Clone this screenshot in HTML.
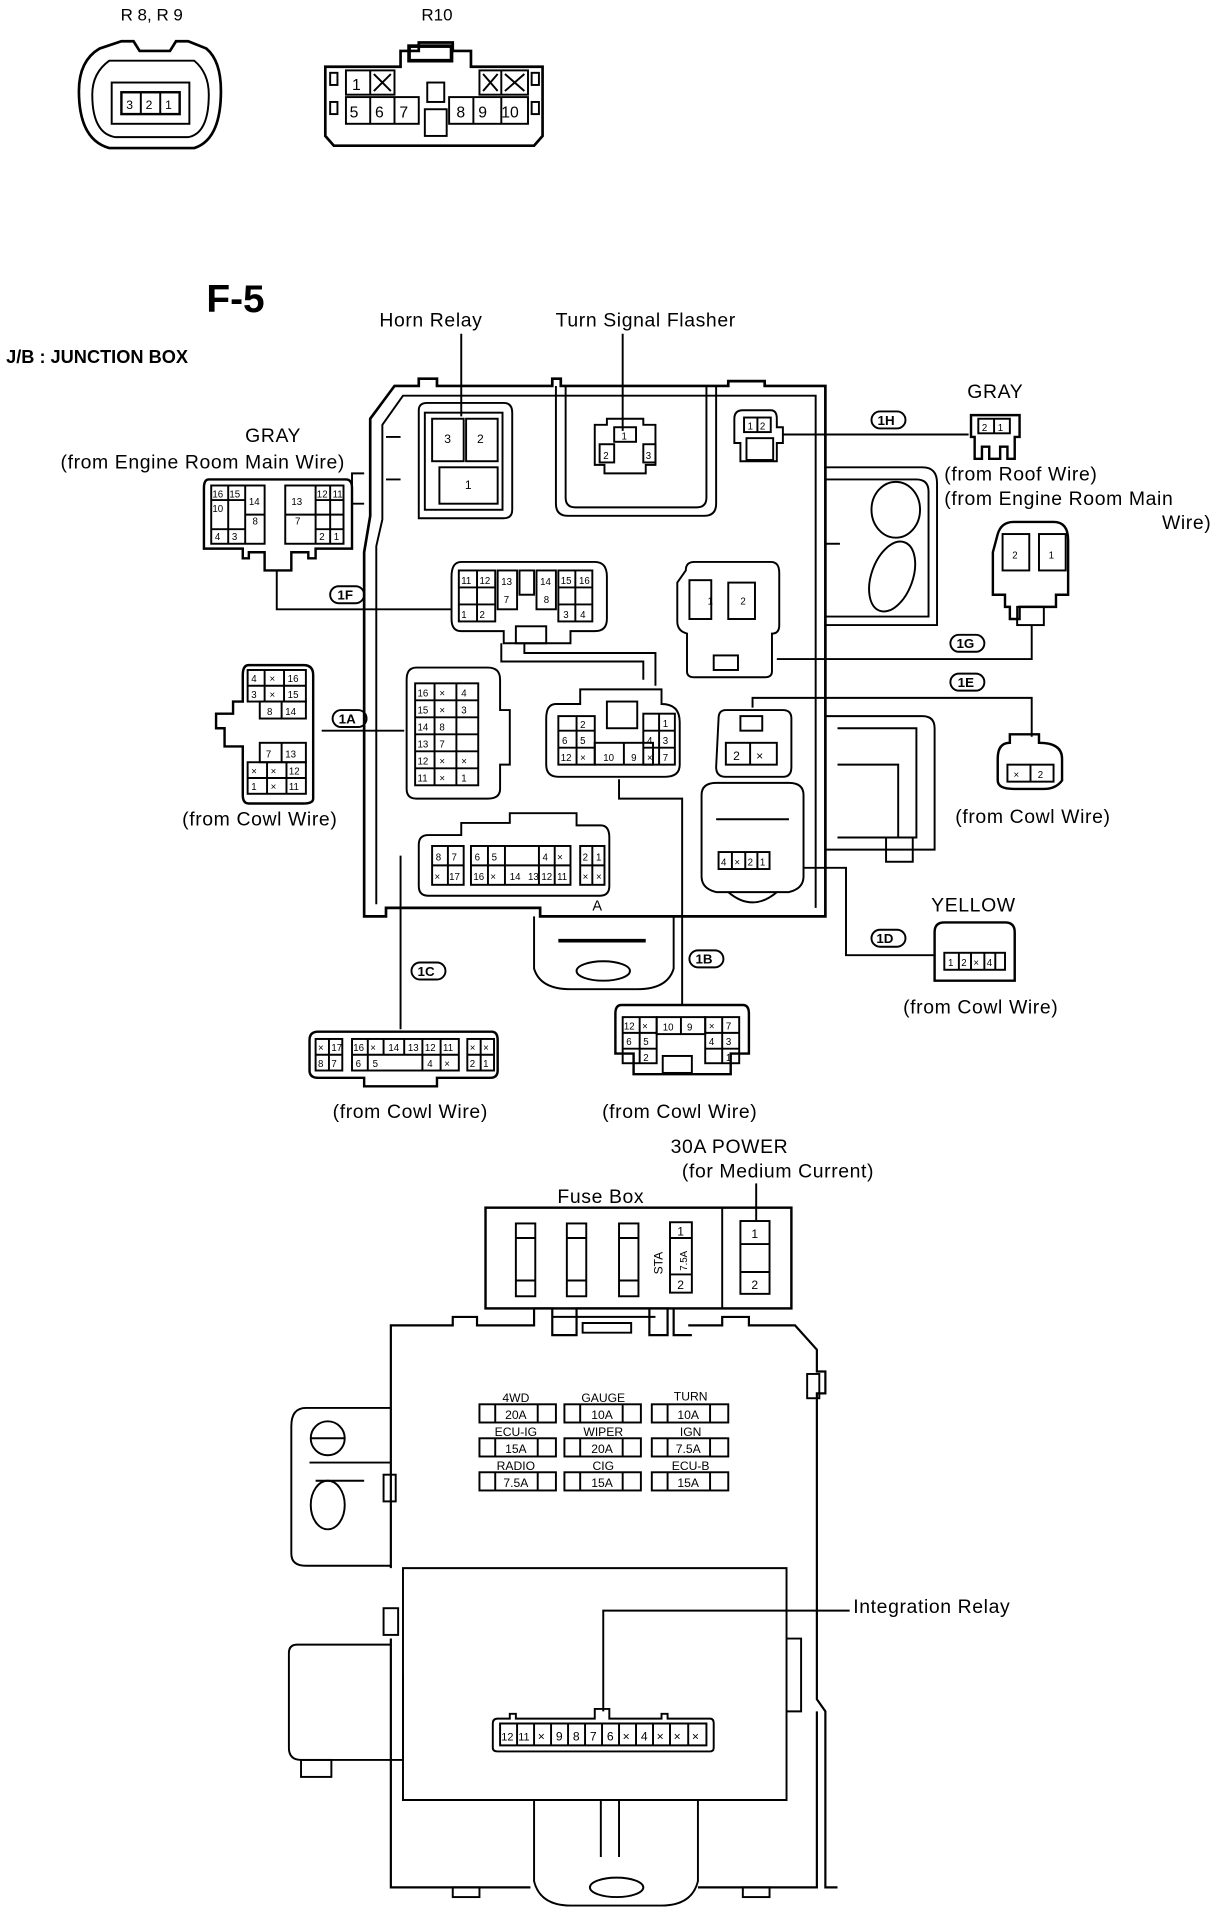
<!DOCTYPE html>
<html><head><meta charset="utf-8"><style>
html,body{margin:0;padding:0;background:#fff}
svg{display:block}
text{font-family:"Liberation Sans",sans-serif;fill:#000}
.l{font-size:16px;letter-spacing:0.5px}
.s{font-size:10px}
.t{font-size:8px}
</style></head><body>
<svg width="1232" height="1908" viewBox="0 0 1015 1572" xmlns="http://www.w3.org/2000/svg" fill="none" stroke="#000" stroke-width="1.6">
<!-- top connectors -->
<g stroke="none">
<text x="125" y="17" text-anchor="middle" style="font-size:14px">R 8, R 9</text>
<text x="360" y="17" text-anchor="middle" style="font-size:14px">R10</text>
</g>
<path d="M82 40 L100 34 H110 L115 42 H140 L145 34 H155 L170 40 Q182 50 182 75 Q182 115 160 122 H90 Q65 115 65 75 Q65 50 82 40Z" stroke-width="2.2"/>
<path d="M90 50 H160 Q172 60 172 78 Q172 110 155 113 H95 Q76 110 76 78 Q76 60 90 50Z"/>
<rect x="92" y="68" width="64" height="34"/>
<rect x="100" y="76" width="48" height="18" stroke-width="2"/>
<path d="M116 76V94M132 76V94"/>
<g stroke="none" class="s"><text x="104" y="90">3</text><text x="120" y="90">2</text><text x="136" y="90">1</text></g>
<path d="M268 55 H330 V42 H345 V35 H373 V42 H388 V55 H447 V112 L440 120 H275 L268 112Z" stroke-width="2.2"/>
<rect x="337" y="38" width="35" height="12" stroke-width="3"/>
<rect x="285" y="58" width="40" height="20"/><rect x="285" y="80" width="60" height="22"/>
<rect x="395" y="58" width="40" height="20"/><rect x="370" y="80" width="65" height="22"/>
<path d="M305 58V78M305 80V102M325 80V102M390 80V102M413 58V78M413 80V102"/>
<path d="M308 61l14 14M322 61l-14 14M398 61l12 14M410 61l-12 14M416 61l16 14M432 61l-16 14"/>
<rect x="352" y="68" width="14" height="16"/><rect x="350" y="90" width="18" height="22"/>
<rect x="272" y="60" width="6" height="10"/><rect x="272" y="84" width="6" height="10"/>
<rect x="438" y="60" width="6" height="10"/><rect x="438" y="84" width="6" height="10"/>
<g stroke="none" style="font-size:13px"><text x="290" y="74">1</text><text x="288" y="97">5</text><text x="309" y="97">6</text><text x="329" y="97">7</text><text x="376" y="97">8</text><text x="394" y="97">9</text><text x="413" y="97">10</text></g>

<!-- headings -->
<g stroke="none">
<text x="170" y="257" style="font-size:32px;font-weight:bold">F-5</text>
<text x="5" y="299" style="font-size:15px;font-weight:bold">J/B : JUNCTION BOX</text>
<text x="355" y="269" text-anchor="middle" class="l">Horn Relay</text>
<text x="532" y="269" text-anchor="middle" class="l">Turn Signal Flasher</text>
<text x="225" y="364" text-anchor="middle" class="l">GRAY</text>
<text x="167" y="386" text-anchor="middle" class="l">(from Engine Room Main Wire)</text>
<text x="820" y="328" text-anchor="middle" class="l">GRAY</text>
<text x="778" y="396" class="l">(from Roof Wire)</text>
<text x="778" y="416" class="l">(from Engine Room Main</text>
<text x="998" y="436" text-anchor="end" class="l">Wire)</text>
<text x="214" y="680" text-anchor="middle" class="l">(from Cowl Wire)</text>
<text x="851" y="678" text-anchor="middle" class="l">(from Cowl Wire)</text>
<text x="802" y="751" text-anchor="middle" class="l">YELLOW</text>
<text x="808" y="835" text-anchor="middle" class="l">(from Cowl Wire)</text>
<text x="338" y="921" text-anchor="middle" class="l">(from Cowl Wire)</text>
<text x="560" y="921" text-anchor="middle" class="l">(from Cowl Wire)</text>
<text x="601" y="950" text-anchor="middle" class="l">30A POWER</text>
<text x="641" y="970" text-anchor="middle" class="l">(for Medium Current)</text>
<text x="495" y="991" text-anchor="middle" class="l">Fuse Box</text>
<text x="703" y="1329" class="l">Integration Relay</text>
</g>

<!-- main junction box outline -->
<path d="M300 750 V455 L305 425 V345 L325 318 H345 V312 H360 V318 H455 V312 H462 V318 H600 V314 H630 V318 H680 V755 H445 V748 H318 V755 H300Z" stroke-width="2.2"/>
<path d="M310 745 V450 L315 428 V350 L332 326 H672 V748"/>
<path d="M300 390 H290 V415 H300"/>
<path d="M318 360 H330M318 395 H330"/>
<!-- horn relay -->
<path d="M345 338 Q345 332 352 332 H415 Q422 332 422 340 V420 Q422 427 415 427 H345Z"/>
<rect x="350" y="340" width="64" height="80"/>
<rect x="356" y="345" width="26" height="35"/><rect x="384" y="345" width="26" height="35"/>
<rect x="362" y="385" width="48" height="30"/>
<g stroke="none" class="s"><text x="366" y="365">3</text><text x="393" y="365">2</text><text x="383" y="403">1</text></g>
<path d="M380 275 V343"/>
<!-- turn flasher -->
<path d="M458 318 V415 Q458 425 468 425 H580 Q590 425 590 415 V318"/>
<path d="M466 318 V410 Q466 418 474 418 H574 Q582 418 582 410 V318"/>
<path d="M490 350 H500 V345 H530 V350 H540 V383 H532 V390 H498 V383 H490Z"/>
<rect x="506" y="352" width="18" height="12"/>
<rect x="494" y="366" width="12" height="15"/><rect x="530" y="366" width="10" height="15"/>
<g stroke="none" class="t"><text x="512" y="362">1</text><text x="497" y="378">2</text><text x="532" y="378">3</text></g>
<path d="M513 275 V355"/>
<!-- 1H connector -->
<path d="M605 345 Q605 338 612 338 H635 Q640 338 640 345 V352 H645 V365 H640 V380 H610 V365 H605Z"/>
<rect x="613" y="344" width="22" height="12"/><path d="M624 344V356"/>
<rect x="615" y="361" width="22" height="18"/>
<g stroke="none" class="t"><text x="616" y="354">1</text><text x="626" y="354">2</text></g>
<path d="M645 358 H798"/>
<rect x="718" y="339" width="28" height="14" rx="7"/>
<g stroke="none" class="s"><text x="723" y="350" style="font-size:11px;font-weight:bold">1H</text></g>
<!-- GRAY 1H right -->
<path d="M800 342 H840 V360 H836 V378 H830 V368 H824 V378 H815 V368 H809 V378 H803 V360 H800Z" stroke-width="2"/>
<rect x="806" y="345" width="26" height="12"/><path d="M819 345V357"/>
<g stroke="none" class="t"><text x="809" y="355">2</text><text x="822" y="355">1</text></g>
<!-- right oval bracket area -->
<path d="M680 385 H760 Q772 385 772 398 V515 H680"/>
<path d="M680 395 H755 Q765 395 765 405 V508 H680"/>
<ellipse cx="738" cy="420" rx="20" ry="23"/>
<ellipse cx="735" cy="475" rx="17" ry="30" transform="rotate(20 735 475)"/>
<path d="M680 448 H692"/>
<!-- 1G connector right -->
<path d="M822 440 Q825 430 835 430 H868 Q880 430 880 445 V490 H870 V500 H840 V510 H832 V500 H828 V490 H818 V455Z" stroke-width="2"/>
<rect x="826" y="440" width="22" height="30"/><rect x="856" y="440" width="22" height="30"/>
<rect x="838" y="500" width="22" height="15"/>
<g stroke="none" class="t"><text x="834" y="460">2</text><text x="864" y="460">1</text></g>
<path d="M850 515 V543 H640"/>
<rect x="783" y="523" width="28" height="14" rx="7"/>
<g stroke="none"><text x="788" y="534" style="font-size:11px;font-weight:bold">1G</text></g>
<!-- 1G relay -->
<path d="M565 470 Q565 463 572 463 H635 Q642 463 642 472 V515 Q642 522 636 522 V553 Q636 558 630 558 H572 Q566 558 566 553 V522 Q558 520 558 512 V480Z"/>
<rect x="568" y="478" width="18" height="32"/><rect x="600" y="480" width="22" height="30"/>
<rect x="588" y="540" width="20" height="12"/>
<g stroke="none" class="t"><text x="583" y="498">1</text><text x="610" y="498">2</text></g>
<!-- 1E -->
<rect x="783" y="555" width="28" height="14" rx="7"/>
<g stroke="none"><text x="789" y="566" style="font-size:11px;font-weight:bold">1E</text></g>
<path d="M620 583 V575 H850 V607"/>
<path d="M822 625 Q822 612 832 612 V605 H856 V612 Q875 612 875 625 V643 Q870 650 860 650 H835 Q822 650 822 643Z" stroke-width="2"/>
<rect x="830" y="630" width="38" height="14"/><path d="M849 630V644"/>
<g stroke="none" class="t"><text x="835" y="641">×</text><text x="855" y="641">2</text></g>
<path d="M592 592 Q592 585 598 585 H645 Q652 585 652 592 V632 Q652 640 645 640 H598 Q590 640 590 632Z"/>
<rect x="598" y="612" width="42" height="18"/><path d="M618 612V630"/>
<g stroke="none" class="s"><text x="604" y="626">2</text><text x="623" y="626">×</text></g>
<rect x="610" y="590" width="18" height="12"/>
<!-- lower right connector -->
<path d="M578 655 Q578 645 590 645 H650 Q662 645 662 655 V722 Q662 732 650 735 H590 Q578 732 578 722Z"/>
<path d="M600 735 Q620 752 640 735"/>
<rect x="592" y="702" width="42" height="14"/>
<path d="M603 702V716M614 702V716M624 702V716"/>
<g stroke="none" class="t"><text x="594" y="713">4</text><text x="605" y="713">×</text><text x="616" y="713">2</text><text x="626" y="713">1</text></g>
<path d="M590 675 H650"/>
<!-- right structures -->
<path d="M680 590 H760 Q770 590 770 600 V700 H680"/>
<path d="M690 600 H755 V690 H690"/>
<path d="M690 630 H740 V690"/>
<rect x="730" y="690" width="22" height="20"/>
<!-- 1D -->
<path d="M662 715 H697 V787 H770"/>
<rect x="718" y="766" width="28" height="14" rx="7"/>
<g stroke="none"><text x="722" y="777" style="font-size:11px;font-weight:bold">1D</text></g>
<path d="M770 768 Q770 760 778 760 H828 Q836 760 836 768 V808 H770Z" stroke-width="2"/>
<rect x="778" y="785" width="50" height="14"/>
<path d="M790 785V799M800 785V799M811 785V799M820 785V799"/>
<g stroke="none" class="t"><text x="781" y="796">1</text><text x="792" y="796">2</text><text x="802" y="796">×</text><text x="813" y="796">4</text></g>
<!-- left GRAY connector 1F -->
<path d="M172 395 H285 Q290 395 290 402 V452 H260 V460 H254 V455 H240 V470 H218 V455 H205 V460 H200 V452 H168 V402 Q168 395 172 395Z" stroke-width="2"/>
<rect x="174" y="400" width="44" height="48"/><rect x="235" y="400" width="48" height="48"/>
<path d="M188 400V448M202 400V412M202 436V448M174 412H202M174 436H202M202 412V436M218 424H202"/>
<path d="M260 400V448M272 400V448M260 412H283M260 424H283M260 436H283M235 424H260"/>
<g stroke="none" class="t"><text x="175" y="410">16</text><text x="189" y="410">15</text><text x="205" y="416">14</text><text x="175" y="422">10</text><text x="208" y="432">8</text><text x="177" y="445">4</text><text x="191" y="445">3</text><text x="240" y="416">13</text><text x="243" y="432">7</text><text x="261" y="410">12</text><text x="274" y="410">11</text><text x="263" y="445">2</text><text x="275" y="445">1</text></g>
<path d="M228 470 V502 H372"/>
<rect x="272" y="483" width="28" height="14" rx="7"/>
<g stroke="none"><text x="278" y="494" style="font-size:11px;font-weight:bold">1F</text></g>
<!-- 1F inner connector -->
<path d="M380 463 H490 Q500 463 500 475 V510 Q500 520 490 520 H470 V530 H415 V520 H380 Q372 520 372 510 V475 Q372 463 380 463Z"/>
<rect x="378" y="470" width="30" height="42"/><rect x="410" y="470" width="16" height="32"/>
<rect x="442" y="470" width="16" height="32"/><rect x="460" y="470" width="28" height="42"/>
<path d="M393 470V512M378 484H408M378 498H408M474 470V512M460 484H488M460 498H488"/>
<rect x="428" y="470" width="12" height="20"/>
<rect x="425" y="516" width="25" height="14"/>
<path d="M413 530 V545 H530 V560M432 530 V538H540 V565"/>
<g stroke="none" class="t"><text x="380" y="481">11</text><text x="395" y="481">12</text><text x="413" y="482">13</text><text x="445" y="482">14</text><text x="462" y="481">15</text><text x="477" y="481">16</text><text x="415" y="497">7</text><text x="448" y="497">8</text><text x="380" y="509">1</text><text x="395" y="509">2</text><text x="464" y="509">3</text><text x="478" y="509">4</text></g>
<!-- 1A left connector -->
<path d="M205 548 H250 Q258 548 258 556 V658 Q258 662 250 662 H205 Q200 662 200 655 V615 H185 V600 H178 V588 H192 V578 H200 V556 Q200 548 205 548Z" stroke-width="2"/>
<rect x="204" y="552" width="48" height="26"/><path d="M218 552V578M234 552V578M204 565H252"/>
<rect x="214" y="578" width="38" height="14"/><path d="M232 578V592"/>
<rect x="214" y="612" width="38" height="16"/><path d="M232 612V628"/>
<rect x="204" y="628" width="48" height="26"/><path d="M220 628V654M236 628V654M204 641H252"/>
<g stroke="none" class="t"><text x="207" y="562">4</text><text x="222" y="562">×</text><text x="237" y="562">16</text><text x="207" y="575">3</text><text x="222" y="575">×</text><text x="237" y="575">15</text><text x="220" y="589">8</text><text x="235" y="589">14</text><text x="219" y="624">7</text><text x="235" y="624">13</text><text x="207" y="638">×</text><text x="223" y="638">×</text><text x="238" y="638">12</text><text x="207" y="651">1</text><text x="223" y="651">×</text><text x="238" y="651">11</text></g>
<path d="M265 602 H333"/>
<rect x="274" y="585" width="28" height="14" rx="7"/>
<g stroke="none"><text x="279" y="596" style="font-size:11px;font-weight:bold">1A</text></g>
<!-- 1A inner -->
<path d="M343 550 H402 Q412 550 412 560 V585 H420 V630 H412 V650 Q412 658 402 658 H343 Q335 658 335 650 V560 Q335 550 343 550Z"/>
<rect x="342" y="563" width="52" height="84"/>
<path d="M342 577H394M342 591H394M342 605H394M342 619H394M342 633H394M358 563V647M376 563V647"/>
<g stroke="none" class="t"><text x="344" y="574">16</text><text x="362" y="574">×</text><text x="380" y="574">4</text><text x="344" y="588">15</text><text x="362" y="588">×</text><text x="380" y="588">3</text><text x="344" y="602">14</text><text x="362" y="602">8</text><text x="344" y="616">13</text><text x="362" y="616">7</text><text x="344" y="630">12</text><text x="362" y="630">×</text><text x="380" y="630">×</text><text x="344" y="644">11</text><text x="362" y="644">×</text><text x="380" y="644">1</text></g>
<!-- center connector -->
<path d="M458 580 H478 V568 H545 V580 Q560 580 560 595 V630 Q560 640 548 640 H460 Q450 640 450 630 V592 Q450 580 458 580Z"/>
<rect x="460" y="590" width="30" height="40"/><rect x="490" y="612" width="48" height="18"/><rect x="530" y="588" width="26" height="42"/>
<path d="M475 590V630M460 602H490M460 616H490M514 612V630M543 588V630M530 602H556M530 616H556"/>
<rect x="500" y="578" width="25" height="22"/>
<g stroke="none" class="t"><text x="478" y="600">2</text><text x="463" y="613">6</text><text x="478" y="613">5</text><text x="462" y="627">12</text><text x="478" y="627">×</text><text x="497" y="627">10</text><text x="520" y="627">9</text><text x="546" y="599">1</text><text x="533" y="613">4</text><text x="546" y="613">3</text><text x="533" y="627">×</text><text x="546" y="627">7</text></g>
<!-- 1B -->
<path d="M510 642 V658 H562 V828"/>
<rect x="568" y="783" width="28" height="14" rx="7"/>
<g stroke="none"><text x="573" y="794" style="font-size:11px;font-weight:bold">1B</text></g>
<path d="M512 828 H612 Q617 828 617 835 V868 H602 V885 H522 V868 H507 V835 Q507 828 512 828Z" stroke-width="2"/>
<rect x="513" y="838" width="28" height="38"/><rect x="541" y="838" width="40" height="14"/><rect x="581" y="838" width="28" height="38"/>
<path d="M527 838V876M513 851H541M513 864H541M595 838V876M581 851H609M581 864H609M561 838V852"/>
<rect x="546" y="870" width="24" height="14"/>
<g stroke="none" class="t"><text x="514" y="848">12</text><text x="529" y="848">×</text><text x="546" y="849">10</text><text x="566" y="849">9</text><text x="584" y="848">×</text><text x="598" y="848">7</text><text x="516" y="861">6</text><text x="530" y="861">5</text><text x="584" y="861">4</text><text x="598" y="861">3</text><text x="530" y="874">2</text><text x="598" y="874">1</text></g>
<!-- bottom row connector -->
<path d="M353 688 H380 V678 H420 V670 H475 V680 H495 Q502 680 502 690 V730 Q502 738 494 738 H353 Q345 738 345 730 V696 Q345 688 353 688Z"/>
<rect x="356" y="697" width="26" height="32"/><rect x="388" y="697" width="82" height="32"/><rect x="478" y="697" width="20" height="32"/>
<path d="M369 697V729M356 713H382M402 697V729M416 697V729M444 697V729M457 697V729M388 713H470M488 697V729M478 713H498"/>
<g stroke="none" class="t"><text x="359" y="709">8</text><text x="372" y="709">7</text><text x="358" y="725">×</text><text x="370" y="725">17</text><text x="391" y="709">6</text><text x="405" y="709">5</text><text x="390" y="725">16</text><text x="404" y="725">×</text><text x="420" y="725">14</text><text x="435" y="725">13</text><text x="447" y="709">4</text><text x="459" y="709">×</text><text x="446" y="725">12</text><text x="459" y="725">11</text><text x="480" y="709">2</text><text x="491" y="709">1</text><text x="480" y="725">×</text><text x="491" y="725">×</text></g>
<g stroke="none"><text x="492" y="750" text-anchor="middle" style="font-size:12px">A</text></g>
<path d="M440 755 V798 Q445 815 470 815 H525 Q550 815 555 798 V755"/>
<path d="M460 775 H532" stroke-width="3"/>
<ellipse cx="497" cy="800" rx="22" ry="8"/>
<!-- 1C -->
<path d="M330 705 V848"/>
<rect x="339" y="793" width="28" height="14" rx="7"/>
<g stroke="none"><text x="344" y="804" style="font-size:11px;font-weight:bold">1C</text></g>
<path d="M262 850 H405 Q410 850 410 857 V882 Q410 888 404 888 H360 V895 H300 V888 H262 Q255 888 255 882 V857 Q255 850 262 850Z" stroke-width="2"/>
<rect x="260" y="856" width="22" height="26"/><rect x="290" y="856" width="88" height="26"/><rect x="385" y="856" width="22" height="26"/>
<path d="M271 856V882M260 869H282M303 856V882M316 856V869M333 856V869M348 856V882M363 856V882M290 869H378M396 856V882M385 869H407"/>
<g stroke="none" class="t"><text x="262" y="866">×</text><text x="273" y="866">17</text><text x="262" y="879">8</text><text x="273" y="879">7</text><text x="291" y="866">16</text><text x="305" y="866">×</text><text x="320" y="866">14</text><text x="336" y="866">13</text><text x="350" y="866">12</text><text x="365" y="866">11</text><text x="293" y="879">6</text><text x="307" y="879">5</text><text x="352" y="879">4</text><text x="366" y="879">×</text><text x="387" y="866">×</text><text x="398" y="866">×</text><text x="387" y="879">2</text><text x="398" y="879">1</text></g>

<!-- fuse box -->
<rect x="400" y="995" width="252" height="83" stroke-width="2"/>
<path d="M595 995V1078"/>
<g>
<rect x="425" y="1008" width="16" height="60"/><path d="M425 1020H441M425 1055H441"/>
<rect x="467" y="1008" width="16" height="60"/><path d="M467 1020H483M467 1055H483"/>
<rect x="510" y="1008" width="16" height="60"/><path d="M510 1020H526M510 1055H526"/>
<rect x="552" y="1007" width="18" height="58"/><path d="M552 1020H570M552 1050H570"/>
<rect x="610" y="1006" width="24" height="60"/><path d="M610 1025H634M610 1048H634"/>
</g>
<g stroke="none" class="s"><text x="558" y="1018">1</text><text x="558" y="1062">2</text><text x="619" y="1020">1</text><text x="619" y="1062">2</text>
<text transform="translate(546 1050) rotate(-90)" class="s">STA</text>
<text transform="translate(566 1047) rotate(-90)" class="t">7.5A</text></g>
<path d="M623 975 V1006"/>
<!-- lower body -->
<path d="M325 1092 H373 V1085 H393 V1092 H440 V1078 H455 V1100 H475 V1078 H550 V1100 H535 V1078 M555 1078 V1100 H570 M567 1092 H595 V1085 H617 V1092 H655 L673 1112 V1130 H680 V1148 H673 V1400 L680 1410 V1555 H690 M673 1410 V1555 H575 M437 1555 H322 V1350 M322 1292 V1092 H325" stroke-width="1.8"/>
<path d="M455 1085 H540 M480 1090 H520 V1098 H480Z"/>
<path d="M332 1292 H648 V1483 H332 Z"/>
<path d="M648 1350 H660 V1410 H648"/>
<rect x="316" y="1325" width="12" height="22"/>
<rect x="665" y="1132" width="10" height="20"/>
<!-- left side bracket -->
<path d="M322 1160 H252 Q240 1160 240 1175 V1280 Q240 1290 252 1290 H322"/>
<circle cx="270" cy="1185" r="14"/><path d="M256 1185 H284"/>
<ellipse cx="270" cy="1240" rx="14" ry="20"/>
<path d="M255 1205 H322 M260 1220 H300"/>
<rect x="316" y="1215" width="10" height="22"/>
<path d="M322 1355 H245 Q238 1355 238 1362 V1440 Q238 1450 248 1450 H332 V1380"/>
<rect x="248" y="1450" width="25" height="14"/>
<!-- fuse labels -->
<g>
<rect x="395" y="1157" width="63" height="15"/><path d="M408 1157V1172M443 1157V1172"/>
<rect x="465" y="1157" width="63" height="15"/><path d="M478 1157V1172M513 1157V1172"/>
<rect x="537" y="1157" width="63" height="15"/><path d="M550 1157V1172M585 1157V1172"/>
<rect x="395" y="1185" width="63" height="15"/><path d="M408 1185V1200M443 1185V1200"/>
<rect x="465" y="1185" width="63" height="15"/><path d="M478 1185V1200M513 1185V1200"/>
<rect x="537" y="1185" width="63" height="15"/><path d="M550 1185V1200M585 1185V1200"/>
<rect x="395" y="1213" width="63" height="15"/><path d="M408 1213V1228M443 1213V1228"/>
<rect x="465" y="1213" width="63" height="15"/><path d="M478 1213V1228M513 1213V1228"/>
<rect x="537" y="1213" width="63" height="15"/><path d="M550 1213V1228M585 1213V1228"/>
</g>
<g stroke="none" class="s" text-anchor="middle">
<text x="425" y="1155">4WD</text><text x="497" y="1155">GAUGE</text><text x="569" y="1154">TURN</text>
<text x="425" y="1169">20A</text><text x="496" y="1169">10A</text><text x="567" y="1169">10A</text>
<text x="425" y="1183">ECU-IG</text><text x="497" y="1183">WIPER</text><text x="569" y="1183">IGN</text>
<text x="425" y="1197">15A</text><text x="496" y="1197">20A</text><text x="567" y="1197">7.5A</text>
<text x="425" y="1211">RADIO</text><text x="497" y="1211">CIG</text><text x="569" y="1211">ECU-B</text>
<text x="425" y="1225">7.5A</text><text x="496" y="1225">15A</text><text x="567" y="1225">15A</text>
</g>
<!-- integration relay -->
<path d="M497 1410 V1327 H700"/>
<path d="M410 1416 H420 V1412 H425 V1416 H490 V1408 H502 V1416 H545 V1412 H550 V1416 H585 Q588 1416 588 1420 V1440 Q588 1443 585 1443 H410 Q406 1443 406 1440 V1420 Q406 1416 410 1416Z"/>
<path d="M412 1420 H582 V1438 H412Z"/>
<path d="M426 1420V1438M440 1420V1438M454 1420V1438M468 1420V1438M482 1420V1438M496 1420V1438M510 1420V1438M524 1420V1438M538 1420V1438M552 1420V1438M567 1420V1438"/>
<g stroke="none" class="s"><text x="413" y="1434" style="font-size:9px">12</text><text x="427" y="1434" style="font-size:9px">11</text><text x="443" y="1434">×</text><text x="458" y="1434">9</text><text x="472" y="1434">8</text><text x="486" y="1434">7</text><text x="500" y="1434">6</text><text x="513" y="1434">×</text><text x="528" y="1434">4</text><text x="541" y="1434">×</text><text x="555" y="1434">×</text><text x="570" y="1434">×</text></g>
<!-- bottom tab -->
<path d="M440 1483 V1550 Q445 1570 470 1570 H545 Q570 1570 575 1550 V1483"/>
<path d="M495 1483 V1530 M510 1483 V1530"/>
<ellipse cx="508" cy="1555" rx="22" ry="8"/>
<rect x="373" y="1555" width="22" height="8"/><rect x="612" y="1555" width="22" height="8"/>
</svg>
</body></html>
